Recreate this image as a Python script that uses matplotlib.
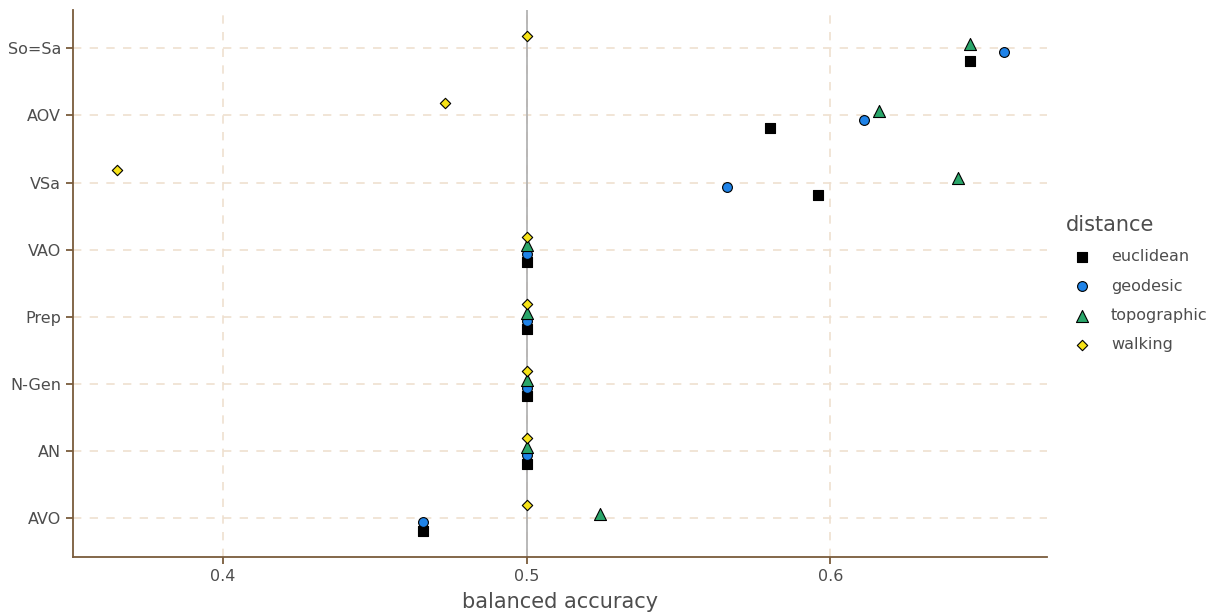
import numpy as np
import matplotlib
matplotlib.use("Agg")
import matplotlib.pyplot as plt

# categories, top to bottom
categories = ["So=Sa", "AOV", "VSa", "VAO", "Prep", "N-Gen", "AN", "AVO"]
distances = ["euclidean", "geodesic", "topographic", "walking"]

euclidean = [0.646, 0.580, 0.596, 0.5, 0.5, 0.5, 0.5, 0.466]
geodesic = [0.657, 0.611, 0.566, 0.5, 0.5, 0.5, 0.5, 0.466]
topographic = [0.646, 0.616, 0.642, 0.5, 0.5, 0.5, 0.5, 0.524]
walking = [0.5, 0.473, 0.365, 0.5, 0.5, 0.5, 0.5, 0.5]

values = [euclidean, geodesic, topographic, walking]
markers = ["s", "o", "^", "D"]
colors = ["#000000", "#1f83e8", "#2aa66a", "#f7e318"]
sizes = [55, 50, 75, 28]
offsets = [-0.1875, -0.0625, 0.0625, 0.1875]

axis_col = "#7a5c3c"
grid_col = "#efe0cf"
text_col = "#4d4d4d"

fig = plt.figure(figsize=(12.15, 6.15), dpi=100)
ax = fig.add_axes([0.060, 0.0943, 0.8017, 0.8894])

ypos = np.arange(len(categories))[::-1] + 1  # So=Sa on top

ax.axvline(0.5, color="#b3b3b3", lw=1.3, zorder=1)

for vals, m, c, s, off, name in zip(values, markers, colors, sizes, offsets, distances):
    ax.scatter(vals, ypos + off, marker=m, s=s, color=c,
               edgecolor="black", linewidth=0.8, zorder=3, label=name)

ax.set_xlim(0.3506, 0.6713)
ax.set_ylim(0.42, 8.57)
ax.set_xticks([0.4, 0.5, 0.6])
ax.set_xticklabels(["0.4", "0.5", "0.6"])
ax.set_yticks(ypos)
ax.set_yticklabels(categories)

ax.grid(True, color=grid_col, linestyle=(0, (5, 5)), linewidth=1.2, zorder=0)
ax.set_axisbelow(True)

for side in ["top", "right"]:
    ax.spines[side].set_visible(False)
for side in ["left", "bottom"]:
    ax.spines[side].set_color(axis_col)
    ax.spines[side].set_linewidth(1.3)

ax.tick_params(colors=axis_col, length=5, width=1.3, labelsize=11.5,
               labelcolor=text_col)
ax.set_xlabel("balanced accuracy", fontsize=15, color=text_col, labelpad=6)

leg = ax.legend(title="distance", loc="center left", bbox_to_anchor=(1.005, 0.5),
                frameon=False, fontsize=11.5, title_fontsize=15,
                labelspacing=0.9, handletextpad=0.8, borderaxespad=0.5)
leg._legend_box.align = "left"
for t in leg.get_texts():
    t.set_color(text_col)
leg.get_title().set_color(text_col)

plt.savefig("out.png", dpi=100)
